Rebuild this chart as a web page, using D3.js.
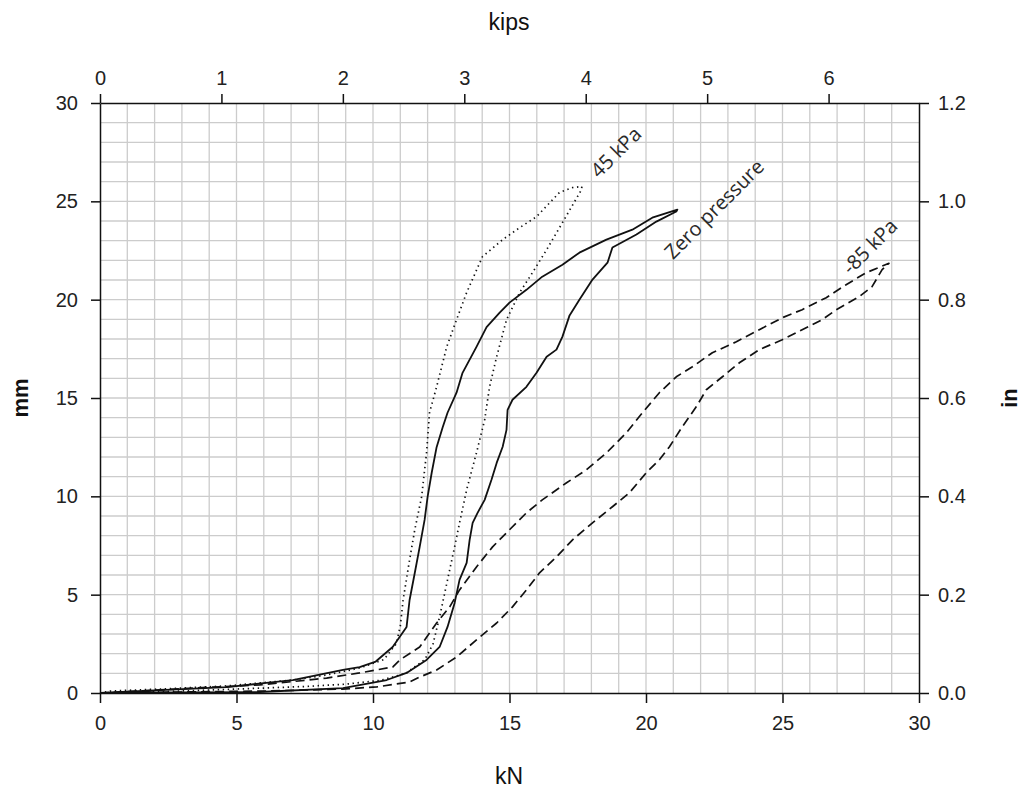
<!DOCTYPE html>
<html>
<head>
<meta charset="utf-8">
<script src="https://cdn.jsdelivr.net/npm/d3@7"></script>
<style>
  body { margin: 0; background: #fff; }
  svg { display: block; font-family: "Liberation Sans", Arial, sans-serif; }
</style>
</head>
<body>
<div id="chart"></div>
<script>
// Configuration
const width = 1024;
const height = 788;
const marginTop = 103;
const marginRight = 105;
const marginBottom = 95;
const marginLeft = 100;

// Data: [kN, mm]
const kpa45Up = [[0,0],[0.37,0.1],[2.2,0.2],[4.65,0.36],[5.85,0.51],[7.06,0.66],[8.31,0.92],[9.51,1.27],[10.4,1.7],[10.85,2.5],[11.0,3.4],[11.1,4.7],[11.34,6.77],[11.53,8.3],[11.78,9.97],[11.96,12.2],[12.07,14.25],[12.33,15.57],[12.7,17.6],[13.06,18.98],[13.43,20.36],[14.01,22.19],[14.75,23.05],[15.37,23.66],[15.99,24.22],[16.83,25.45],[17.31,25.7],[17.65,25.75]];
const kpa45Down = [[17.64,25.6],[16.94,23.92],[16.36,22.54],[15.84,21.37],[15.37,20.36],[14.89,18.98],[14.53,17.1],[14.27,15.57],[14.09,13.89],[13.79,12.21],[13.43,10.33],[13.17,8.65],[12.99,7.43],[12.73,5.75],[12.44,3.87],[12.2,2.5],[11.9,1.7],[11.2,1.0],[10.3,0.65],[9.0,0.45],[7.5,0.33],[5,0.2],[2.5,0.08],[0,0]];

const zeroUp = [[0,0],[2.2,0.15],[4.65,0.3],[7.06,0.66],[8.9,1.17],[9.51,1.32],[10.1,1.6],[10.72,2.34],[11.23,3.36],[11.34,4.73],[11.53,6.1],[11.71,7.43],[11.89,8.8],[12.0,9.97],[12.15,11.2],[12.33,12.5],[12.55,13.5],[12.73,14.25],[13.06,15.27],[13.28,16.28],[13.54,16.95],[13.79,17.6],[14.16,18.6],[14.64,19.34],[15.0,19.85],[15.62,20.5],[16.2,21.17],[16.94,21.78],[17.56,22.39],[18.55,23.05],[19.5,23.56],[20.23,24.17],[21.15,24.58]];
const zeroDown = [[21.11,24.48],[20.38,23.97],[19.65,23.31],[18.77,22.65],[18.59,21.88],[18.04,21.02],[17.56,20.0],[17.2,19.2],[16.94,18.12],[16.72,17.46],[16.36,17.1],[15.99,16.28],[15.62,15.57],[15.11,14.91],[14.93,14.4],[14.89,13.38],[14.75,12.52],[14.53,11.7],[14.34,10.84],[14.09,9.82],[13.83,9.16],[13.65,8.65],[13.54,7.79],[13.43,6.62],[13.17,5.75],[12.99,4.58],[12.73,3.36],[12.44,2.34],[11.96,1.68],[11.23,1.02],[10.5,0.66],[8.9,0.25],[5.85,0.05],[3,0.03],[0,0]];

const kpa85Up = [[0,0],[3.4,0.25],[5.85,0.41],[8.3,0.76],[9.51,1.02],[10.72,1.32],[10.98,1.68],[11.71,2.34],[12.33,3.56],[12.81,4.38],[13.17,5.24],[13.79,6.41],[14.38,7.43],[15.0,8.3],[15.62,9.16],[16.2,9.82],[17.09,10.69],[17.82,11.35],[18.55,12.21],[19.28,13.23],[19.87,14.25],[20.49,15.27],[21.11,16.08],[21.7,16.59],[22.43,17.3],[23.31,17.86],[24.15,18.47],[24.99,19.08],[25.72,19.49],[26.6,20.1],[27.33,20.76],[28.06,21.37],[28.9,21.85]];
const kpa85Down = [[28.65,21.53],[28.28,20.66],[27.81,20.15],[26.97,19.49],[26.45,18.98],[25.72,18.47],[24.99,17.96],[24.15,17.46],[23.42,16.79],[22.8,16.08],[22.21,15.42],[21.84,14.55],[21.33,13.54],[20.86,12.52],[20.49,11.86],[20.01,11.2],[19.39,10.18],[18.77,9.47],[18.04,8.65],[17.31,7.79],[16.72,6.92],[16.1,6.11],[15.62,5.24],[15.11,4.38],[14.53,3.56],[13.79,2.7],[13.06,1.83],[12.33,1.17],[11.71,0.81],[11.34,0.56],[10.14,0.31],[8.89,0.2],[6,0.1],[3,0.05],[0,0]];

const series = [
  {name: "45 kPa", up: kpa45Up, down: kpa45Down, dash: "1.4,3.6", label: [18.9, 27.5]},
  {name: "Zero pressure", up: zeroUp, down: zeroDown, dash: null, label: [22.5, 24.6]},
  {name: "-85 kPa", up: kpa85Up, down: kpa85Down, dash: "9,5", label: [28.2, 22.7]}
];

const kNTicks = [0, 5, 10, 15, 20, 25, 30];
const mmTicks = [0, 5, 10, 15, 20, 25, 30];
const kipTicks = [0, 1, 2, 3, 4, 5, 6];
const inTicks = [0, 0.2, 0.4, 0.6, 0.8, 1.0, 1.2];

// Scales
const x = d3.scaleLinear([0, 30], [marginLeft, width - marginRight]);
const y = d3.scaleLinear([0, 30], [height - marginBottom, marginTop]);
const xKip = d3.scaleLinear([0, 30 / 4.448], [marginLeft, width - marginRight]);
const yIn = d3.scaleLinear([0, 1.2], [height - marginBottom, marginTop]);

const svg = d3.select("#chart").append("svg")
  .attr("width", width)
  .attr("height", height)
  .attr("viewBox", [0, 0, width, height]);

// Grid
const grid = svg.append("g").attr("stroke", "#cccccc").attr("stroke-width", 1.3);
grid.selectAll(".gx").data(d3.range(1, 30)).join("line")
  .attr("x1", d => x(d)).attr("x2", d => x(d))
  .attr("y1", y(0)).attr("y2", y(30));
grid.selectAll(".gy").data(d3.range(1, 30)).join("line")
  .attr("y1", d => y(d)).attr("y2", d => y(d))
  .attr("x1", x(0)).attr("x2", x(30));

// Axes
function styleAxis(g) {
  g.selectAll(".domain").attr("stroke", "#111").attr("stroke-width", 1.5);
  g.selectAll(".tick line").attr("stroke", "#111").attr("stroke-width", 1.5);
  g.selectAll(".tick text").attr("fill", "#222").style("font-size", "20px");
}

svg.append("g")
  .attr("transform", `translate(0,${y(0)})`)
  .call(d3.axisBottom(x).tickValues(kNTicks).tickSize(10).tickSizeOuter(0).tickPadding(13))
  .call(styleAxis);

svg.append("g")
  .attr("transform", `translate(${x(0)},0)`)
  .call(d3.axisLeft(y).tickValues(mmTicks).tickSize(9).tickSizeOuter(0).tickPadding(13))
  .call(styleAxis);

svg.append("g")
  .attr("transform", `translate(0,${y(30)})`)
  .call(d3.axisTop(xKip).tickValues(kipTicks).tickFormat(d3.format("d")).tickSize(9).tickSizeOuter(0).tickPadding(9))
  .call(styleAxis);

svg.append("g")
  .attr("transform", `translate(${x(30)},0)`)
  .call(d3.axisRight(yIn).tickValues(inTicks).tickFormat(d3.format(".1f")).tickSize(10).tickSizeOuter(0).tickPadding(9))
  .call(styleAxis);

// Curves
const line = d3.line().x(d => x(d[0])).y(d => y(d[1]));

svg.append("g")
  .attr("fill", "none")
  .attr("stroke", "#111")
  .selectAll("path")
  .data(series)
  .join("path")
    .attr("d", d => line(d.up.concat(d.down)))
    .attr("stroke-width", d => d.dash ? 1.7 : 1.8)
    .attr("stroke-dasharray", d => d.dash)
    .attr("stroke-linejoin", "round");

// Curve labels
svg.append("g")
  .style("font-family", "'Open Sans', sans-serif")
  .style("font-size", "20px")
  .attr("fill", "#2a2a2a")
  .selectAll("text")
  .data(series)
  .join("text")
    .attr("text-anchor", "middle")
    .attr("dy", "0.35em")
    .attr("transform", d => `translate(${x(d.label[0])},${y(d.label[1])}) rotate(-45)`)
    .text(d => d.name);

// Axis titles
svg.append("text")
  .attr("x", 509).attr("y", 30)
  .attr("text-anchor", "middle")
  .style("font-size", "23px")
  .attr("fill", "#111")
  .text("kips");

svg.append("text")
  .attr("x", 509).attr("y", 784)
  .attr("text-anchor", "middle")
  .style("font-size", "23px")
  .attr("fill", "#111")
  .text("kN");

svg.append("text")
  .attr("transform", `translate(28,${(y(0) + y(30)) / 2}) rotate(-90)`)
  .attr("text-anchor", "middle")
  .style("font-size", "22px")
  .style("font-weight", "bold")
  .attr("fill", "#111")
  .text("mm");

svg.append("text")
  .attr("transform", `translate(1017,${(y(0) + y(30)) / 2}) rotate(-90)`)
  .attr("text-anchor", "middle")
  .style("font-size", "22px")
  .style("font-weight", "bold")
  .attr("fill", "#111")
  .text("in");
</script>
</body>
</html>
